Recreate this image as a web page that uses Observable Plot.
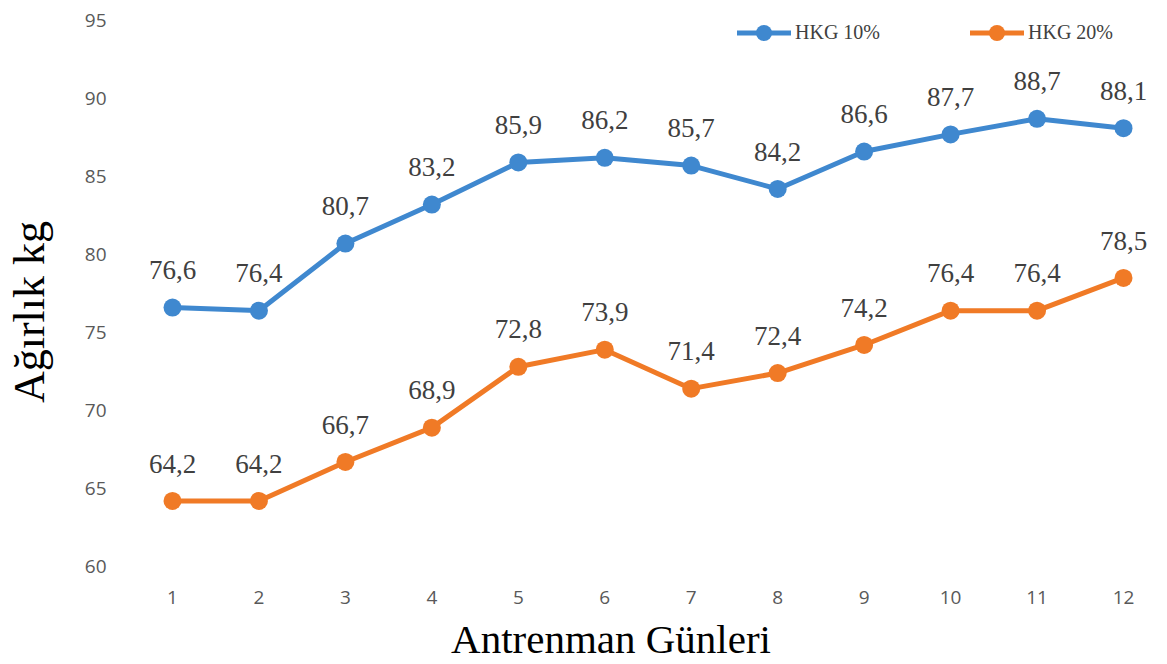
<!DOCTYPE html>
<html>
<head>
<meta charset="utf-8">
<script src="https://cdn.jsdelivr.net/npm/d3@7"></script>
<script src="https://cdn.jsdelivr.net/npm/@observablehq/plot@0.6"></script>
<style>
  html, body { margin: 0; padding: 0; background: #fff; }
  #wrap { position: relative; width: 1167px; height: 664px; }
  .leg { position: absolute; top: 21px; font-family: "Liberation Serif", "Times New Roman", serif; font-size: 20px; color: #404040; display: flex; align-items: center; }
  .leg svg { margin-right: 2px; }
</style>
</head>
<body>
<div id="wrap"></div>
<script>
const days = [1,2,3,4,5,6,7,8,9,10,11,12];
const hkg10 = [76.6,76.4,80.7,83.2,85.9,86.2,85.7,84.2,86.6,87.7,88.7,88.1];
const hkg20 = [64.2,64.2,66.7,68.9,72.8,73.9,71.4,72.4,74.2,76.4,76.4,78.5];
const seriesNames = ["HKG 10%", "HKG 20%"];
const colors = ["#3f88cf", "#f07a26"];
const yTicks = [60,65,70,75,80,85,90,95];

const data = [];
days.forEach((d, i) => {
  data.push({day: d, v: hkg10[i], s: seriesNames[0]});
  data.push({day: d, v: hkg20[i], s: seriesNames[1]});
});
const fmt = v => v.toFixed(1).replace(".", ",");

const chart = Plot.plot({
  width: 1167,
  height: 664,
  marginLeft: 172,
  marginRight: 44,
  marginTop: 20,
  marginBottom: 98,
  style: {background: "#fff", fontFamily: "'Open Sans', sans-serif"},
  x: {domain: [1, 12], ticks: days, tickFormat: d => String(d)},
  y: {domain: [60, 95], ticks: yTicks},
  color: {domain: seriesNames, range: colors},
  marks: [
    Plot.axisY({ticks: yTicks, tickSize: 0, tickPadding: 66, label: null, fill: "#595959", fontSize: 19}),
    Plot.axisX({ticks: days, tickSize: 0, tickPadding: 24, label: null, fill: "#595959", fontSize: 19}),
    Plot.line(data, {x: "day", y: "v", stroke: "s", strokeWidth: 5, z: "s"}),
    Plot.dot(data, {x: "day", y: "v", fill: "s", r: 9, stroke: "none"}),
    Plot.text(data, {x: "day", y: "v", text: d => fmt(d.v), dy: -37,
      fontSize: 27, fill: "#404040", fontFamily: "'Liberation Serif', 'Times New Roman', serif"})
  ]
});
chart.style.position = "absolute";
chart.style.left = "0";
chart.style.top = "0";
const wrap = document.getElementById("wrap");
wrap.appendChild(chart);

const svg = d3.select(chart);
svg.selectAll("g[aria-label$='tick label'] text").style("font-size", "19px");
svg.append("text")
  .attr("x", 611).attr("y", 653)
  .attr("text-anchor", "middle")
  .attr("font-family", "'Liberation Serif', 'Times New Roman', serif")
  .attr("font-size", 41).attr("fill", "#000")
  .text("Antrenman Günleri");
svg.append("text")
  .attr("transform", "translate(44,312) rotate(-90)")
  .attr("text-anchor", "middle")
  .attr("font-family", "'Liberation Serif', 'Times New Roman', serif")
  .attr("font-size", 44).attr("fill", "#000")
  .text("Ağırlık kg");

// legend
const legX = [735, 968];
seriesNames.forEach((name, i) => {
  const div = document.createElement("div");
  div.className = "leg";
  div.style.left = legX[i] + "px";
  div.innerHTML = `<svg width="58" height="22"><line x1="2" y1="11" x2="56" y2="11" stroke="${colors[i]}" stroke-width="5"/><circle cx="29" cy="11" r="8" fill="${colors[i]}"/></svg><span>${name}</span>`;
  wrap.appendChild(div);
});
</script>
</body>
</html>
